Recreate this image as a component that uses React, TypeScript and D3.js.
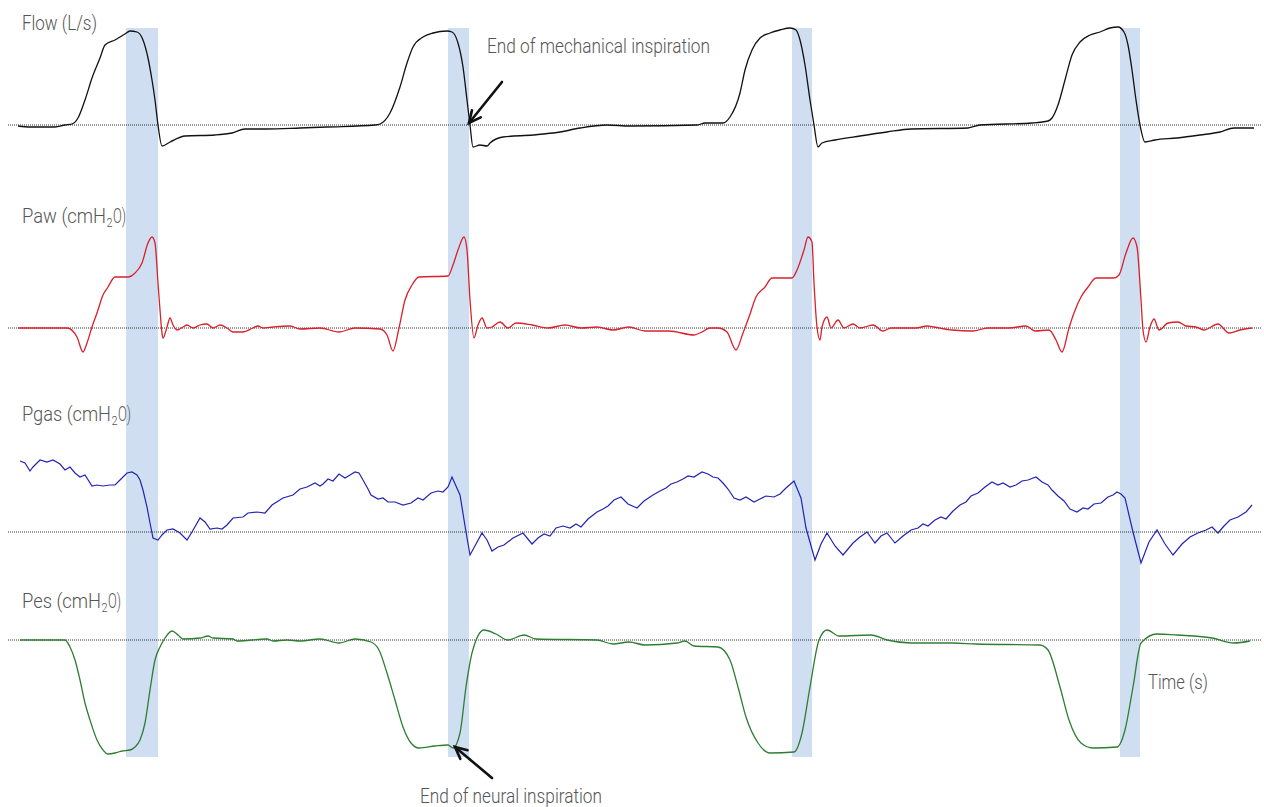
import React from "react";
import * as d3 from "d3";

// time (s), value
const flow: [number, number][] = [
  [0.1, -0.01], [0.22, -0.02], [0.47, -0.02], [0.57, 0], [0.64, 0.01], [0.7, 0.07], [0.77, 0.25],
  [0.84, 0.47], [0.92, 0.67], [0.97, 0.8], [1.07, 0.85], [1.17, 0.91], [1.22, 0.94], [1.29, 0.93],
  [1.35, 0.85], [1.4, 0.67], [1.44, 0.45], [1.47, 0.25], [1.5, 0], [1.54, -0.21], [1.62, -0.17],
  [1.77, -0.11], [2.07, -0.1], [2.24, -0.08], [2.37, -0.04], [2.58, -0.04], [2.92, -0.03],
  [3.19, -0.02], [3.67, 0], [3.72, 0.01], [3.82, 0.12], [3.92, 0.38], [3.99, 0.62], [4.05, 0.78],
  [4.15, 0.88], [4.25, 0.92], [4.39, 0.94], [4.44, 0.93], [4.5, 0.82], [4.55, 0.58], [4.59, 0.25],
  [4.62, 0], [4.65, -0.22], [4.72, -0.2], [4.79, -0.21], [4.82, -0.18], [4.95, -0.12], [5.25, -0.1],
  [5.52, -0.07], [5.72, -0.03], [5.99, 0], [6.22, -0.01], [6.89, 0], [6.97, 0.02], [7.15, 0.02],
  [7.22, 0.08], [7.32, 0.32], [7.37, 0.55], [7.44, 0.75], [7.52, 0.87], [7.62, 0.92], [7.72, 0.95],
  [7.82, 0.97], [7.88, 0.95], [7.92, 0.85], [7.97, 0.6], [8.02, 0.25], [8.06, 0], [8.1, -0.22],
  [8.14, -0.18], [8.27, -0.15], [8.52, -0.11], [8.79, -0.07], [9.03, -0.04], [9.6, -0.03],
  [9.72, 0], [10.24, 0.02], [10.4, 0.04], [10.44, 0.07], [10.5, 0.2], [10.57, 0.45], [10.64, 0.7],
  [10.72, 0.83], [10.82, 0.9], [10.92, 0.93], [11.02, 0.97], [11.1, 0.98], [11.16, 0.93],
  [11.2, 0.8], [11.24, 0.55], [11.28, 0.25], [11.32, 0], [11.37, -0.17], [11.47, -0.15],
  [11.69, -0.13], [11.92, -0.1], [12.12, -0.07], [12.26, -0.03], [12.46, -0.03],
];

const paw: [number, number][] = [
  [0.1, 0], [0.32, 0], [0.59, 0], [0.69, -1.8], [0.75, -4.8], [0.79, -3], [0.84, 0.2], [0.89, 3],
  [0.95, 6.6], [1.0, 8.2], [1.07, 10.2], [1.2, 10.2], [1.27, 11], [1.34, 13], [1.4, 17], [1.44, 18.2],
  [1.47, 17], [1.5, 9], [1.52, 3.6], [1.54, -1], [1.55, -2], [1.59, 0.2], [1.62, 2], [1.65, 0.6],
  [1.69, -0.4], [1.75, 0.2], [1.79, 0.6], [1.85, 0], [1.92, 0.6], [1.99, 0.8], [2.05, 0], [2.12, 0.6],
  [2.19, 0], [2.25, -0.8], [2.35, -0.8], [2.45, 0], [2.5, 0.4], [2.55, 0], [2.65, 0.2], [2.82, 0.4],
  [2.92, -0.2], [3.12, 0], [3.31, -0.8], [3.47, 0], [3.72, -0.2], [3.79, -1.4], [3.85, -4.6],
  [3.91, 0], [3.97, 5.6], [4.04, 8.6], [4.11, 10.2], [4.4, 10.4], [4.45, 12.6], [4.5, 15.6],
  [4.56, 18.2], [4.59, 15.6], [4.62, 5.6], [4.66, -2], [4.7, 0.6], [4.74, 2], [4.79, 0], [4.84, 0.2],
  [4.92, 1.2], [5.0, 0], [5.08, 1], [5.24, 0.6], [5.4, 0], [5.57, 0.6], [5.73, 0], [5.89, 0.2],
  [6.05, -0.4], [6.21, 0.2], [6.37, -0.6], [6.61, -0.6], [6.86, -1.4], [6.94, -0.8], [7.02, 0],
  [7.1, 0], [7.19, -0.8], [7.28, -4.4], [7.35, -1], [7.41, 2.2], [7.48, 6.2], [7.57, 8.2],
  [7.64, 10], [7.84, 10], [7.89, 11.6], [7.96, 15.6], [8.0, 18.2], [8.04, 17.2], [8.06, 9],
  [8.09, 0.2], [8.12, -2.4], [8.14, 0.2], [8.19, 2.2], [8.23, 0], [8.3, 1.6], [8.36, 0], [8.45, 0.8],
  [8.52, 0], [8.65, 0.6], [8.75, -0.6], [8.83, 0], [9.08, 0], [9.19, 0.4], [9.26, 0.2], [9.44, -0.4],
  [9.65, -0.6], [9.8, 0], [10.01, 0], [10.18, 0.4], [10.27, -0.6], [10.41, -0.4], [10.48, -2.4],
  [10.54, -4.8], [10.61, 0], [10.66, 3], [10.73, 6.2], [10.8, 8.2], [10.88, 10], [11.06, 10],
  [11.11, 10.6], [11.18, 15], [11.25, 18], [11.29, 16.2], [11.33, 5.6], [11.35, -0.4], [11.38, -2.8],
  [11.42, 0.2], [11.46, 1.8], [11.51, -0.4], [11.6, 1], [11.7, 1.2], [11.78, 0.4], [11.88, 0.2],
  [11.96, -0.4], [12.1, 0.8], [12.21, -1], [12.32, -0.4], [12.44, 0],
];

const pgas: [number, number][] = [
  [0.12, 14.2], [0.17, 13.8], [0.22, 12.2], [0.25, 13], [0.32, 14.4], [0.39, 14], [0.45, 14.4],
  [0.52, 13.6], [0.57, 12.4], [0.62, 13], [0.67, 11.8], [0.72, 11], [0.77, 11.4], [0.84, 9.2],
  [0.89, 9.4], [0.95, 9.2], [1.02, 9.4], [1.07, 9.4], [1.12, 10.4], [1.19, 11.8], [1.24, 12],
  [1.29, 11.4], [1.32, 10.4], [1.35, 8.4], [1.39, 5], [1.42, 1.8], [1.45, -1.2], [1.5, -1.6],
  [1.54, -0.6], [1.59, 0.4], [1.65, 0.6], [1.72, -0.2], [1.79, -1.6], [1.84, 0], [1.92, 2.8],
  [1.97, 2], [2.02, 0.6], [2.09, 0.8], [2.14, 0.6], [2.19, 1.4], [2.25, 2.8], [2.35, 3], [2.4, 3.8],
  [2.49, 4], [2.57, 3.8], [2.64, 5.4], [2.75, 6.8], [2.85, 7.4], [2.92, 8.6], [2.99, 9], [3.07, 9.8],
  [3.12, 9.2], [3.15, 9.6], [3.2, 10.6], [3.25, 10.2], [3.31, 11.6], [3.37, 10.8], [3.42, 11.4],
  [3.47, 12], [3.51, 11.8], [3.55, 10.4], [3.6, 8.6], [3.63, 7.4], [3.7, 6.6], [3.75, 6.8],
  [3.8, 6], [3.87, 6], [3.95, 5.4], [4.03, 5.8], [4.1, 6.8], [4.15, 6.4], [4.23, 7.8], [4.3, 8.2],
  [4.35, 8], [4.4, 9], [4.44, 11], [4.52, 7.4], [4.58, 0], [4.62, -4.6], [4.68, -2.4], [4.74, -0.2],
  [4.79, -1.6], [4.84, -3.8], [4.9, -3], [4.96, -2.6], [5.05, -1.2], [5.15, -0.2], [5.24, -2.4],
  [5.3, -1.2], [5.36, -0.4], [5.42, -0.8], [5.48, 0.8], [5.55, 1.2], [5.62, 0.8], [5.68, 1.6],
  [5.73, 1], [5.8, 2.6], [5.89, 4], [5.95, 4.6], [6.0, 5.2], [6.06, 6.4], [6.13, 7], [6.2, 5.6],
  [6.29, 4.8], [6.36, 6.2], [6.45, 7.4], [6.52, 8.2], [6.58, 8.8], [6.63, 9.6], [6.69, 10],
  [6.75, 10.6], [6.8, 11.2], [6.86, 11], [6.94, 12], [7.0, 11.6], [7.05, 11], [7.1, 10.8],
  [7.15, 9.8], [7.2, 8.6], [7.26, 6.8], [7.32, 6.4], [7.38, 7], [7.46, 6], [7.52, 6.6], [7.58, 7.2],
  [7.66, 7], [7.72, 7.6], [7.78, 8.8], [7.86, 10.2], [7.93, 6.8], [7.98, 0.8], [8.07, -5.6],
  [8.13, -2.4], [8.19, -0.2], [8.27, -2.8], [8.35, -4.6], [8.45, -2.2], [8.52, -1], [8.59, 0],
  [8.67, -2.2], [8.73, -0.8], [8.79, -0.2], [8.87, -2.2], [8.95, -0.8], [9.03, 0.4], [9.1, 0.8],
  [9.15, 1.6], [9.2, 1.2], [9.27, 2.4], [9.33, 3], [9.38, 2.6], [9.45, 4.2], [9.52, 5.4], [9.58, 6],
  [9.63, 7.2], [9.7, 7.8], [9.77, 9], [9.84, 10], [9.9, 9.4], [9.95, 9.8], [10.02, 9], [10.08, 9.4],
  [10.14, 10.2], [10.2, 10.4], [10.28, 11], [10.34, 10], [10.4, 9.4], [10.44, 8.4], [10.5, 7.2],
  [10.56, 6.2], [10.62, 4.6], [10.69, 4], [10.75, 4.8], [10.8, 4.6], [10.86, 5.6], [10.93, 5.8],
  [11.0, 7], [11.05, 7.4], [11.09, 8], [11.13, 7.6], [11.17, 6.8], [11.25, 0], [11.33, -6.2],
  [11.41, -2], [11.49, 0.4], [11.57, -2.4], [11.65, -4.6], [11.74, -2.4], [11.82, -1], [11.9, -0.2],
  [11.98, 0.4], [12.04, 1], [12.1, -0.2], [12.16, 1.2], [12.22, 2.4], [12.3, 3], [12.38, 4],
  [12.44, 5.4],
];

const pes: [number, number][] = [
  [0.12, 0], [0.57, 0], [0.62, -1.4], [0.67, -4], [0.72, -8], [0.77, -12.6], [0.82, -16],
  [0.89, -20], [0.95, -22], [1.0, -22.8], [1.07, -22.6], [1.14, -22.2], [1.22, -22], [1.27, -21.4],
  [1.32, -20], [1.37, -16.6], [1.42, -10], [1.47, -4], [1.52, -1.4], [1.57, 0.4], [1.64, 1.8],
  [1.7, 1], [1.75, 0.2], [1.92, 0.4], [2.0, 0.8], [2.05, 0.4], [2.25, 0.2], [2.29, -0.2], [2.59, 0.2],
  [2.65, -0.2], [2.79, 0], [2.92, -0.2], [3.12, 0.2], [3.31, -0.6], [3.47, 0.2], [3.63, -0.4],
  [3.71, -2], [3.79, -6.6], [3.87, -12], [3.95, -17.4], [4.03, -20.6], [4.11, -21.6], [4.27, -21.2],
  [4.4, -21], [4.45, -21.6], [4.52, -18.6], [4.58, -9.4], [4.64, -2.6], [4.76, 2], [4.88, 1.2],
  [5.0, 0], [5.16, 1], [5.28, 0.2], [5.89, 0], [6.05, -0.8], [6.21, -0.4], [6.37, -1], [6.69, -0.6],
  [6.77, -0.2], [6.86, -1.2], [7.1, -1.4], [7.22, -4], [7.3, -9.4], [7.38, -15.4], [7.5, -20.6],
  [7.62, -22.6], [7.86, -22.4], [7.94, -18.6], [8.02, -9.4], [8.11, 0], [8.19, 2], [8.31, 0.8],
  [8.63, 1], [8.79, 0], [9.03, -0.6], [9.44, -0.6], [9.68, -0.8], [10.32, -1], [10.4, -2],
  [10.52, -9.4], [10.61, -16], [10.73, -20.6], [10.85, -21.6], [11.09, -21.4], [11.17, -18],
  [11.25, -9.4], [11.33, -0.6], [11.49, 1.2], [11.69, 1], [11.86, 0.8], [12.04, 0.4], [12.26, -0.6],
  [12.42, -0.2],
];

// end of mechanical inspiration windows (s)
const bands: [number, number][] = [
  [1.18, 1.5],
  [4.4, 4.61],
  [7.84, 8.04],
  [11.12, 11.32],
];

const signalNames = ["Flow", "Paw", "Pgas", "Pes"];
const unitParts = [["(L/s)"], ["(cmH", "2", "O)"], ["(cmH", "2", "O)"], ["(cmH", "2", "O)"]];

const W = 1264;
const H = 807;
const x = d3.scaleLinear().domain([0, 12.5]).range([8, 1258]);

// label pieces: [x0, x1] for main / subscript / tail
const panels = [
  { data: flow, y: d3.scaleLinear().domain([0, 1]).range([125, 25]), color: "#111111", curve: d3.curveMonotoneX, width: 1.3, labelY: 30, spans: [[22, 97]] },
  { data: paw, y: d3.scaleLinear().domain([0, 20]).range([328, 228]), color: "#d9202c", curve: d3.curveMonotoneX, width: 1.3, labelY: 223, spans: [[22, 106], [106.5, 112.5], [113, 126]] },
  { data: pgas, y: d3.scaleLinear().domain([0, 20]).range([532, 432]), color: "#2323b4", curve: d3.curveLinear, width: 1.2, labelY: 421, spans: [[22, 111], [111.5, 117.5], [118, 131]] },
  { data: pes, y: d3.scaleLinear().domain([0, 20]).range([640, 540]), color: "#2e7d32", curve: d3.curveMonotoneX, width: 1.3, labelY: 608, spans: [[22, 101], [101.5, 107.5], [108, 121]] },
];

const font = "Roboto, 'Liberation Sans Narrow', sans-serif";
const textColor = "#555555";

function Arrow({ x1, y1, x2, y2 }: { x1: number; y1: number; x2: number; y2: number }) {
  const a = Math.atan2(y2 - y1, x2 - x1);
  const L = 13;
  const s = 0.45;
  const p1 = [x2 - L * Math.cos(a - s), y2 - L * Math.sin(a - s)];
  const p2 = [x2 - L * Math.cos(a + s), y2 - L * Math.sin(a + s)];
  return (
    <g stroke="#111" strokeWidth={2.6} fill="none" strokeLinecap="round">
      <line x1={x1} y1={y1} x2={x2} y2={y2} />
      <polyline points={`${p1[0]},${p1[1]} ${x2},${y2} ${p2[0]},${p2[1]}`} />
    </g>
  );
}

function Label({ x0, x1, y, size = 20, children }: { x0: number; x1: number; y: number; size?: number; children: string }) {
  return (
    <text x={x0} y={y} fontFamily={font} fontWeight={300} fontSize={size} fill={textColor}
      textLength={x1 - x0} lengthAdjust="spacingAndGlyphs">{children}</text>
  );
}

export default function App() {
  return (
    <svg width={W} height={H} style={{ position: "absolute", left: 0, top: 0, background: "#fff" }}>
      {bands.map(([a, b], i) => (
        <rect key={i} x={x(a)} y={28} width={x(b) - x(a)} height={729} fill="#cfdef1" />
      ))}
      {panels.map((p, i) => (
        <g key={i}>
          <line x1={8} x2={1262} y1={p.y(0)} y2={p.y(0)} stroke="#333" strokeWidth={1} strokeDasharray="1,1" />
          <path
            d={d3.line<[number, number]>().x((d) => x(d[0])).y((d) => p.y(d[1])).curve(p.curve)(p.data) || ""}
            fill="none"
            stroke={p.color}
            strokeWidth={p.width}
          />
          {unitParts[i].map((part, j) => {
            const [x0, x1] = p.spans[j];
            const text = j === 0 ? `${signalNames[i]} ${part}` : part;
            return j === 1 ? (
              <Label key={j} x0={x0} x1={x1} y={p.labelY + 4} size={12}>{text}</Label>
            ) : (
              <Label key={j} x0={x0} x1={x1} y={p.labelY}>{text}</Label>
            );
          })}
        </g>
      ))}
      <Label x0={487} x1={710} y={53}>End of mechanical inspiration</Label>
      <Label x0={420} x1={602} y={803}>End of neural inspiration</Label>
      <Label x0={1148} x1={1208} y={689}>Time (s)</Label>
      <Arrow x1={502} y1={82} x2={469} y2={123} />
      <Arrow x1={492} y1={778} x2={455} y2={747} />
    </svg>
  );
}
